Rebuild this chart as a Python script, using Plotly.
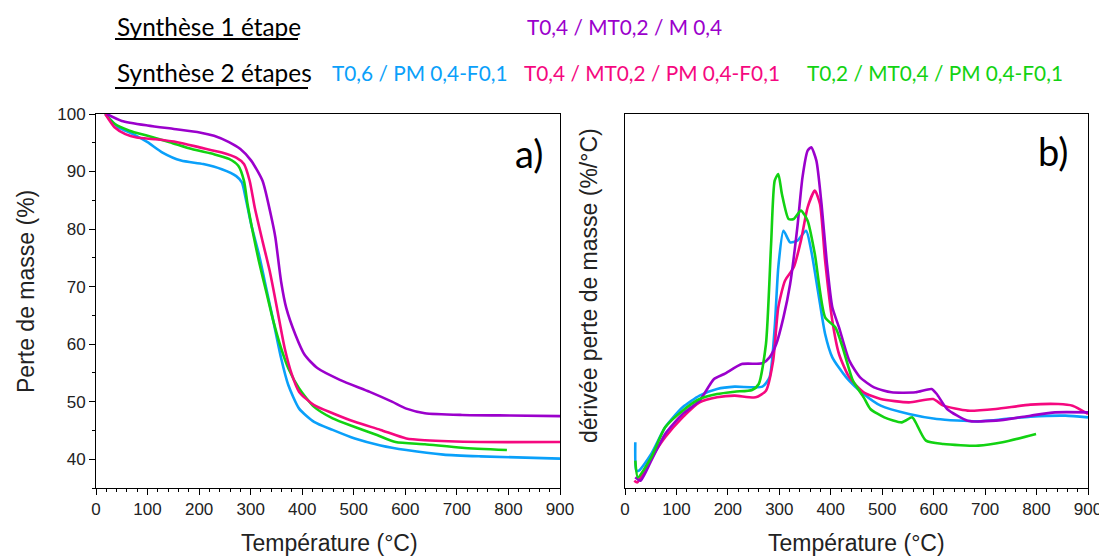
import plotly.graph_objects as go

# ---------------- Data ----------------
# Panel a) TGA : mass (%) vs temperature (°C)
tga_purple_T = [21, 50, 100, 151, 201, 229, 258, 280, 301, 323, 341, 348, 359, 369, 387, 405, 430, 473, 531, 574, 602, 638, 710, 803, 900]
tga_purple_m = [100, 98.8, 98.0, 97.4, 96.8, 96.2, 95.1, 93.9, 91.9, 88.4, 81.7, 78.5, 70.9, 66.3, 61.6, 58.1, 55.8, 53.8, 51.7, 50.0, 48.8, 48.0, 47.7, 47.6, 47.5]

tga_pink_T = [18, 36, 57, 79, 115, 158, 201, 244, 272, 287, 298, 308, 323, 337, 351, 366, 380, 394, 423, 459, 502, 552, 602, 638, 746, 900]
tga_pink_m = [100, 97.7, 96.5, 95.9, 95.6, 95.1, 94.2, 93.3, 92.4, 91.3, 88.4, 83.7, 77.9, 72.7, 66.3, 59.3, 54.7, 51.7, 49.4, 48.0, 46.5, 45.1, 43.6, 43.3, 43.0, 43.0]

tga_green_T = [18, 36, 65, 100, 143, 186, 229, 258, 276, 287, 294, 305, 316, 330, 344, 359, 373, 394, 423, 459, 502, 545, 581, 638, 710, 797]
tga_green_m = [100, 98.3, 97.1, 96.2, 95.1, 93.9, 93.0, 92.2, 91.0, 88.4, 84.3, 79.1, 74.4, 69.2, 64.0, 59.3, 55.8, 52.3, 49.1, 47.1, 45.6, 44.2, 43.0, 42.6, 42.0, 41.6]

tga_blue_T = [18, 43, 72, 100, 129, 165, 208, 244, 272, 283, 290, 301, 316, 330, 344, 359, 373, 394, 423, 459, 502, 552, 602, 674, 746, 900]
tga_blue_m = [100, 97.7, 96.5, 95.1, 93.3, 91.9, 91.3, 90.4, 89.2, 88.1, 85.5, 80.8, 75.6, 69.8, 64.0, 57.6, 52.9, 48.8, 46.5, 45.1, 43.6, 42.4, 41.6, 40.8, 40.5, 40.1]

# Panel b) DTG : derivative (arbitrary units) vs temperature (°C)
dtg_purple_T = [20, 30, 51, 78, 112, 145, 173, 193, 227, 267, 281, 294, 308, 321, 335, 345, 355, 362, 372, 382, 392, 403, 416, 436, 457, 484, 518, 565, 596, 606, 626, 666, 721, 788, 836, 900]
dtg_purple_v = [3.2, 2.2, 8.2, 16.2, 22.2, 26.2, 32.7, 34.2, 37.2, 37.4, 39.2, 43.2, 51.2, 61.2, 78.2, 93.2, 101.2, 102.2, 98.2, 85.2, 68.2, 54.2, 48.2, 38.2, 33.2, 30.2, 28.7, 28.7, 29.7, 28.2, 23.7, 20.2, 20.2, 21.7, 22.7, 22.7]

dtg_pink_T = [18, 24, 44, 78, 112, 145, 179, 213, 254, 274, 288, 298, 311, 328, 342, 355, 369, 379, 389, 403, 416, 436, 464, 497, 552, 599, 619, 666, 721, 788, 842, 870, 900]
dtg_pink_v = [2.2, 1.7, 7.2, 15.2, 21.2, 25.7, 27.2, 27.7, 27.2, 29.2, 38.2, 54.2, 62.2, 66.2, 74.2, 84.2, 89.2, 85.2, 68.2, 50.2, 40.2, 33.2, 28.7, 26.7, 25.7, 26.7, 24.7, 23.2, 23.7, 25.0, 25.2, 24.7, 22.2]

dtg_blue_T = [20, 22, 27, 51, 78, 112, 145, 179, 213, 267, 281, 291, 298, 308, 321, 335, 352, 362, 376, 389, 403, 430, 464, 497, 552, 606, 687, 788, 856, 900]
dtg_blue_v = [13.7, 5.2, 5.2, 10.2, 18.2, 24.2, 27.7, 29.7, 30.4, 30.4, 33.2, 48.2, 66.2, 77.2, 73.7, 74.2, 77.2, 71.2, 58.2, 46.2, 39.2, 33.2, 28.2, 24.7, 22.2, 20.7, 20.0, 21.4, 21.7, 21.2]

dtg_green_T = [20, 25, 51, 78, 112, 145, 179, 213, 247, 260, 274, 284, 291, 298, 305, 318, 328, 342, 355, 369, 389, 409, 423, 443, 464, 477, 504, 538, 558, 565, 585, 619, 687, 734, 799]
dtg_green_v = [8.2, 3.2, 9.2, 18.2, 23.2, 26.7, 28.2, 28.9, 29.4, 31.2, 43.2, 73.2, 92.2, 94.2, 88.2, 80.7, 80.7, 83.2, 80.2, 70.2, 51.2, 48.2, 42.2, 32.2, 27.2, 23.7, 21.2, 19.7, 21.2, 19.7, 14.2, 13.2, 12.7, 13.7, 16.2]

# Axis tick values
x_ticks = [0, 100, 200, 300, 400, 500, 600, 700, 800, 900]
y_ticks = [40, 50, 60, 70, 80, 90, 100]

# Legend/header texts
header_row1 = ["Synthèse 1 étape", "T0,4 / MT0,2 / M 0,4"]
header_row2 = ["Synthèse 2 étapes", "T0,6 / PM 0,4-F0,1", "T0,4 / MT0,2 / PM 0,4-F0,1", "T0,2 / MT0,4 / PM 0,4-F0,1"]

# ---------------- Styling ----------------
PURPLE = "#9B00CC"
BLUE = "#0AA0FA"
PINK = "#F5087F"
GREEN = "#12D212"
OFF = 8                       # default page body margin
W, H = 1107 - OFF, 557 - OFF  # figure size so that it fills the window
LW = 2.6
TXT_FONT = "Lato, 'Open Sans', sans-serif"
AX_FONT = "'Liberation Sans', Arial, sans-serif"

fig = go.Figure()

def add(x, y, color, xa, ya):
    fig.add_trace(go.Scatter(x=x, y=y, mode="lines", xaxis=xa, yaxis=ya,
                             line=dict(color=color, width=LW, shape="spline", smoothing=0.6),
                             showlegend=False, hoverinfo="skip"))

add(tga_blue_T, tga_blue_m, BLUE, "x", "y")
add(tga_green_T, tga_green_m, GREEN, "x", "y")
add(tga_pink_T, tga_pink_m, PINK, "x", "y")
add(tga_purple_T, tga_purple_m, PURPLE, "x", "y")

add(dtg_blue_T, dtg_blue_v, BLUE, "x2", "y2")
add(dtg_pink_T, dtg_pink_v, PINK, "x2", "y2")
add(dtg_purple_T, dtg_purple_v, PURPLE, "x2", "y2")
add(dtg_green_T, dtg_green_v, GREEN, "x2", "y2")

# screen pixel -> paper fraction
def px(x):
    return (x - OFF) / W

def py(y):
    return 1 - (y - OFF) / H

ydom = [py(488), py(114)]
common_axis = dict(showline=True, mirror=True, linecolor="black", linewidth=1,
                   showgrid=False, zeroline=False, ticks="outside", ticklen=6,
                   tickcolor="black", tickwidth=1, ticklabeloverflow="allow",
                   tickfont=dict(family=AX_FONT, size=17, color="#222222"))

fig.update_layout(
    width=W, height=H,
    margin=dict(l=0, r=0, t=0, b=0),
    paper_bgcolor="white", plot_bgcolor="white",
    xaxis=dict(domain=[px(96), px(560)], range=[0, 900], tickvals=x_ticks,
               minor=dict(ticks="outside", ticklen=3, dtick=20, tickcolor="black"),
               anchor="y", automargin=False, **common_axis),
    yaxis=dict(domain=ydom, range=[35, 100], tickvals=y_ticks,
               minor=dict(ticks="outside", ticklen=3, dtick=5, tick0=0, tickcolor="black"),
               anchor="x", automargin=False, **common_axis),
    xaxis2=dict(domain=[px(625), px(1088)], range=[0, 900], tickvals=x_ticks,
                minor=dict(ticks="outside", ticklen=3, dtick=20, tickcolor="black"),
                anchor="y2", automargin=False, **common_axis),
    yaxis2=dict(domain=ydom, range=[0, 112.2], anchor="x2", automargin=False,
                showline=True, mirror=True, linecolor="black", linewidth=1,
                showgrid=False, zeroline=False, showticklabels=False, ticks=""),
)

def A(text, x, y, size, color, family, xanchor="center", angle=0):
    return dict(text=text, x=px(x), y=py(y), xref="paper", yref="paper",
                xanchor=xanchor, yanchor="middle", showarrow=False, textangle=angle,
                font=dict(family=family, size=size, color=color))

ann = []
# axis titles
ann.append(A("Température (°C)", 329, 543, 23, "#222222", AX_FONT))
ann.append(A("Température (°C)", 856, 543, 23, "#222222", AX_FONT))
ann.append(A("Perte de masse (%)", 26, 292, 23, "#222222", AX_FONT, angle=-90))
ann.append(A("dérivée perte de masse (%/°C)", 589, 286, 23, "#222222", AX_FONT, angle=-90))
# panel labels
ann.append(A("a)", 529, 153, 38, "black", TXT_FONT))
ann.append(A("b)", 1053, 151, 38, "black", TXT_FONT))
# header legend
row1_x = [115, 525]
row1_c = ["black", PURPLE]
row1_s = [24.4, 20.8]
for t, x0, c, s in zip(header_row1, row1_x, row1_c, row1_s):
    ann.append(A(t, x0, 27, s, c, TXT_FONT, xanchor="left"))
row2_x = [115, 330, 522, 805]
row2_c = ["black", BLUE, PINK, GREEN]
row2_s = [24.4, 20.8, 20.8, 20.8]
for t, x0, c, s in zip(header_row2, row2_x, row2_c, row2_s):
    ann.append(A(t, x0, 73, s, c, TXT_FONT, xanchor="left"))
fig.update_layout(annotations=ann)

# underlines of the header labels
fig.add_shape(type="line", xref="paper", yref="paper", x0=px(115), x1=px(298), y0=py(39), y1=py(39),
              line=dict(color="black", width=2))
fig.add_shape(type="line", xref="paper", yref="paper", x0=px(115), x1=px(308), y0=py(88), y1=py(88),
              line=dict(color="black", width=2))

fig.write_html("out.html")
